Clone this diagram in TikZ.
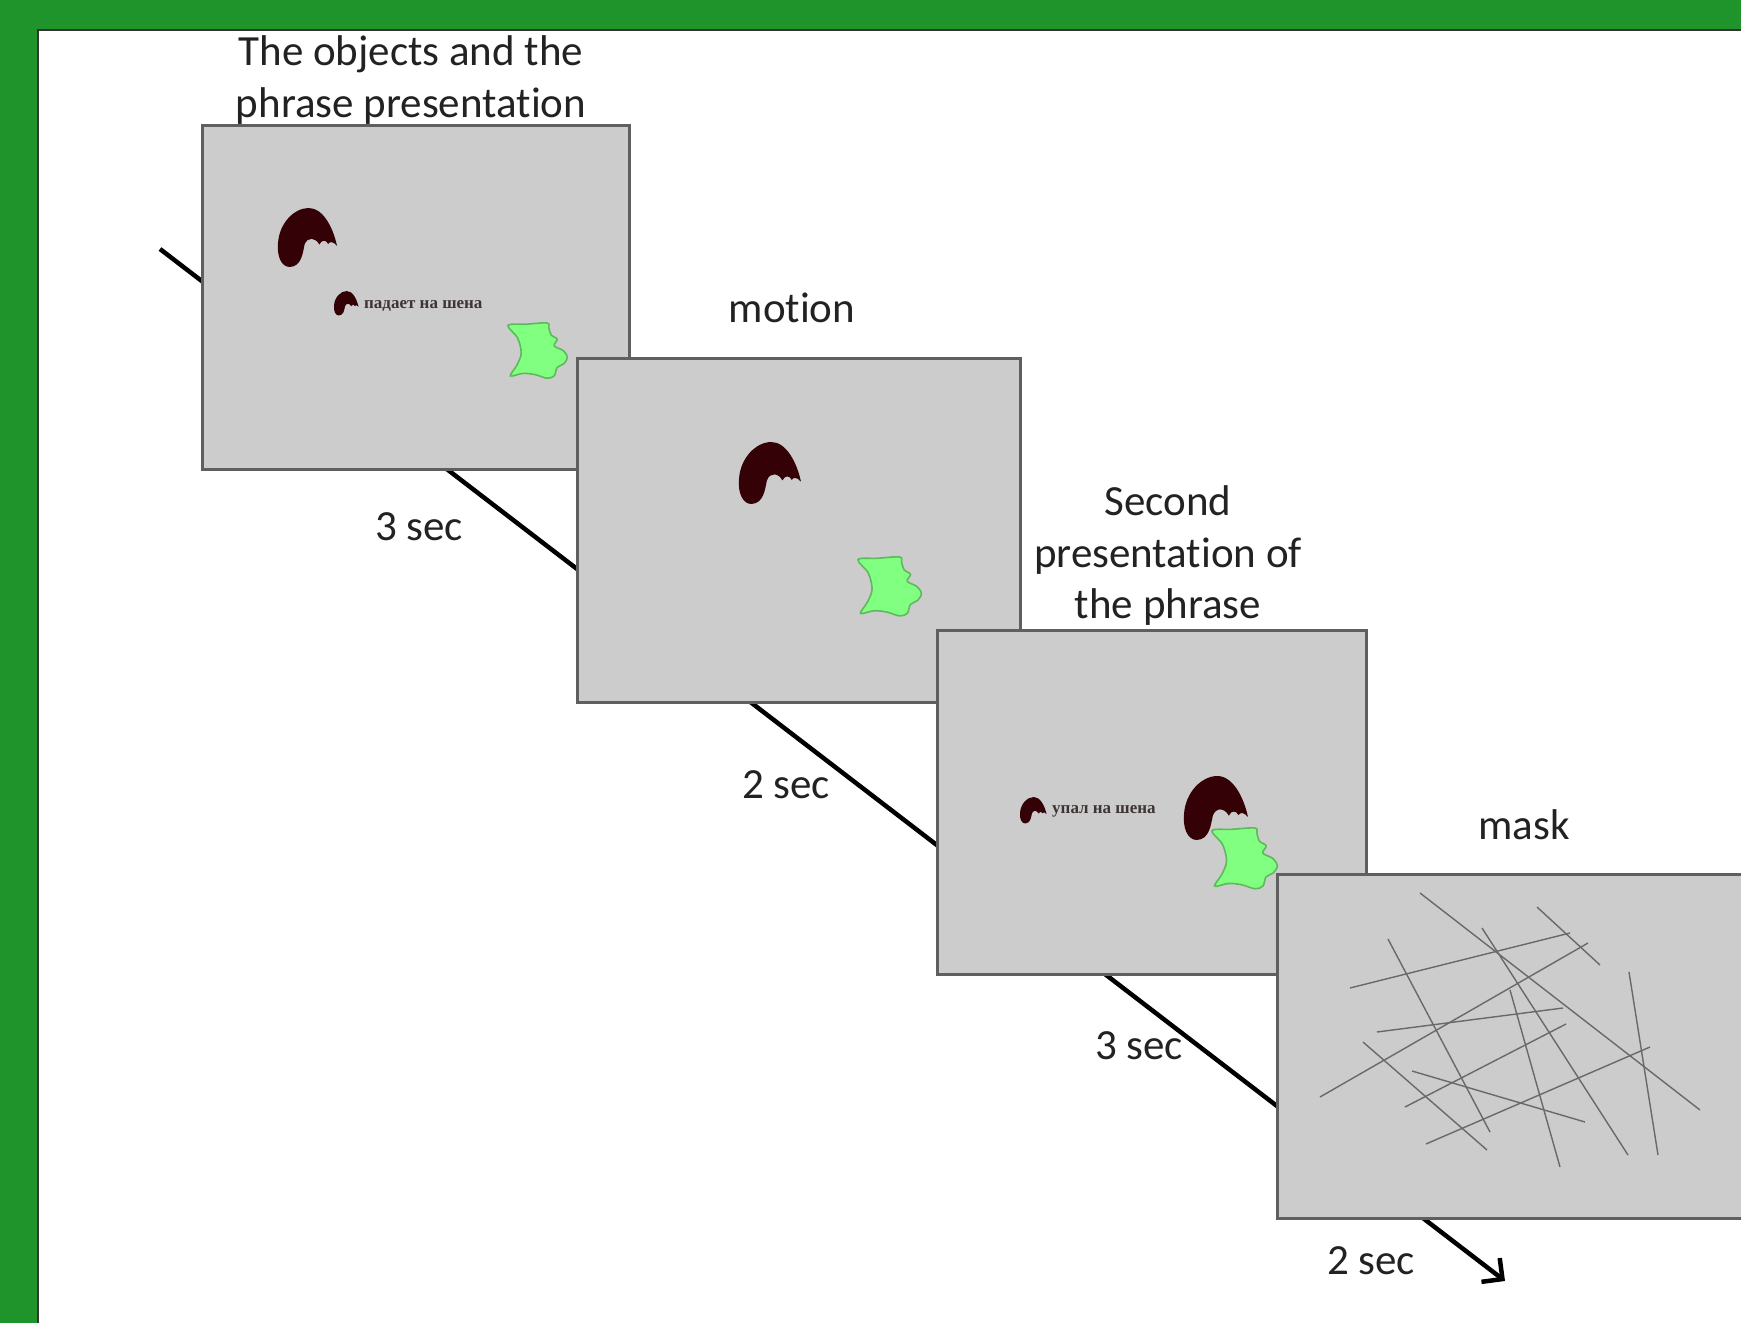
\documentclass[tikz,border=0pt]{standalone}
\usepackage{fontspec}
\setmainfont{Carlito}[Ligatures=NoCommon]
\newfontfamily\ruserif{Liberation Serif}
\usetikzlibrary{arrows.meta}

\definecolor{framegreen}{RGB}{31,148,42}
\definecolor{panelfill}{RGB}{204,204,204}
\definecolor{paneledge}{RGB}{95,95,95}
\definecolor{blobdark}{RGB}{52,2,6}
\definecolor{blobgreen}{RGB}{128,255,128}
\definecolor{blobgreenedge}{RGB}{92,186,92}
\definecolor{labeltext}{RGB}{34,34,34}
\definecolor{rutext}{RGB}{62,52,52}
\definecolor{scratchgray}{RGB}{105,105,105}

\tikzset{
  panel/.style={draw=paneledge, fill=panelfill, line width=3pt, anchor=north west,
                inner sep=0pt, minimum height=344pt},
  caption/.style={font=\fontsize{43}{50}\selectfont, text=labeltext, inner sep=0pt, anchor=base},
  phrase/.style={font=\ruserif\bfseries\fontsize{17}{20}\selectfont, text=rutext, inner sep=0pt, anchor=base west},
  timeline/.style={line width=4.5pt, black, -{Straight Barb[length=15pt,width=30pt]}},
  scratch/.style={draw=scratchgray, line width=1.4pt},
  % dark cap-shaped object, drawn in a 100x100 box from its top-left corner
  darkblob/.pic={
    \begin{scope}[scale=#1]
      \fill[blobdark] (20,100)
        .. controls (5,100) and (-2,80) .. (0,60)
        .. controls (2,25) and (28,0) .. (52,0)
        .. controls (76,0) and (93,32) .. (100,64)
        .. controls (94,57) and (88,56) .. (85,61)
        .. controls (82,54) and (74,53) .. (70,62)
        .. controls (64,50) and (50,48) .. (45,62)
        .. controls (42,76) and (40,99) .. cycle;
    \end{scope}
  },
  % light green object with a wavy right side
  greenblob/.pic={
    \begin{scope}[scale=#1]
      \draw[draw=blobgreenedge, fill=blobgreen, line width=1.6pt]
        plot[smooth cycle, tension=0.55] coordinates {
          (0,4) (30,2) (65,0) (68,8) (72,20) (82,27) (77,38) (92,46) (99,57)
          (93,68) (82,74) (77,88) (65,92) (45,86) (25,84) (4,88) (15,70) (22,50) (16,25)};
    \end{scope}
  }
}

\begin{document}
\begin{tikzpicture}[x=1pt,y=-1pt]
  \useasboundingbox (0,0) rectangle (1741,1323);
  \clip (0,0) rectangle (1741,1323);

  % frame
  \fill[framegreen] (0,0) rectangle (1741,1323);
  \fill[white] (38,30) rectangle (1741,1323);
  \draw[black!80, line width=2pt] (38,1323) -- (38,30) -- (1741,30);

  % time axis behind the screens
  \coordinate (tstart) at (160,249);
  \coordinate (tend) at (1505,1281);
  \draw[timeline] (tstart) -- (tend);

  % screen 1: objects and phrase
  \node[panel, minimum width=427pt] (p1) at (201,124) {};
  \pic (b1) at (278,208) {darkblob=0.59};
  \pic (b1s) at (334,291) {darkblob=0.245};
  \node[phrase] (ph1) at (364,308) {падает на шена};
  \pic (g1) at (508,323) {greenblob=0.60};

  % screen 2: motion
  \node[panel, minimum width=443pt] (p2) at (576,357) {};
  \pic (b2) at (739,442) {darkblob=0.62};
  \pic (g2) at (858,557) {greenblob=0.64};

  % screen 3: second phrase
  \node[panel, minimum width=429pt] (p3) at (936,629) {};
  \pic (b3s) at (1020,797) {darkblob=0.265};
  \node[phrase] (ph3) at (1052,813) {упал на шена};
  \pic (b3) at (1184,776) {darkblob=0.64};
  \pic (g3) at (1212,828) {greenblob=0.66};

  % screen 4: mask
  \node[panel, minimum width=520pt] (p4) at (1276,873) {};
  \draw[scratch] (1420,893) -- (1700,1110);
  \draw[scratch] (1537,907) -- (1600,965);
  \draw[scratch] (1350,988) -- (1570,933);
  \draw[scratch] (1388,939) -- (1490,1132);
  \draw[scratch] (1482,928) -- (1628,1155);
  \draw[scratch] (1320,1097) -- (1588,943);
  \draw[scratch] (1377,1032) -- (1563,1008);
  \draw[scratch] (1510,990) -- (1560,1167);
  \draw[scratch] (1629,972) -- (1658,1155);
  \draw[scratch] (1363,1042) -- (1487,1150);
  \draw[scratch] (1405,1107) -- (1566,1024);
  \draw[scratch] (1412,1071) -- (1585,1122);
  \draw[scratch] (1426,1144) -- (1650,1047);

  % captions
  \node[caption] (c1a) at (411,65) {The objects and the};
  \node[caption] (c1b) at (411,117) {phrase presentation};
  \node[caption] (c2) at (792,322) {motion};
  \node[caption] (c3a) at (1168,515) {Second};
  \node[caption] (c3b) at (1168,567) {presentation of};
  \node[caption] (c3c) at (1168,618) {the phrase};
  \node[caption] (c4) at (1524,839) {mask};

  % durations
  \node[caption] (d1) at (419,540) {3 sec};
  \node[caption] (d2) at (786,798) {2 sec};
  \node[caption] (d3) at (1139,1059) {3 sec};
  \node[caption] (d4) at (1371,1274) {2 sec};
\end{tikzpicture}
\end{document}
